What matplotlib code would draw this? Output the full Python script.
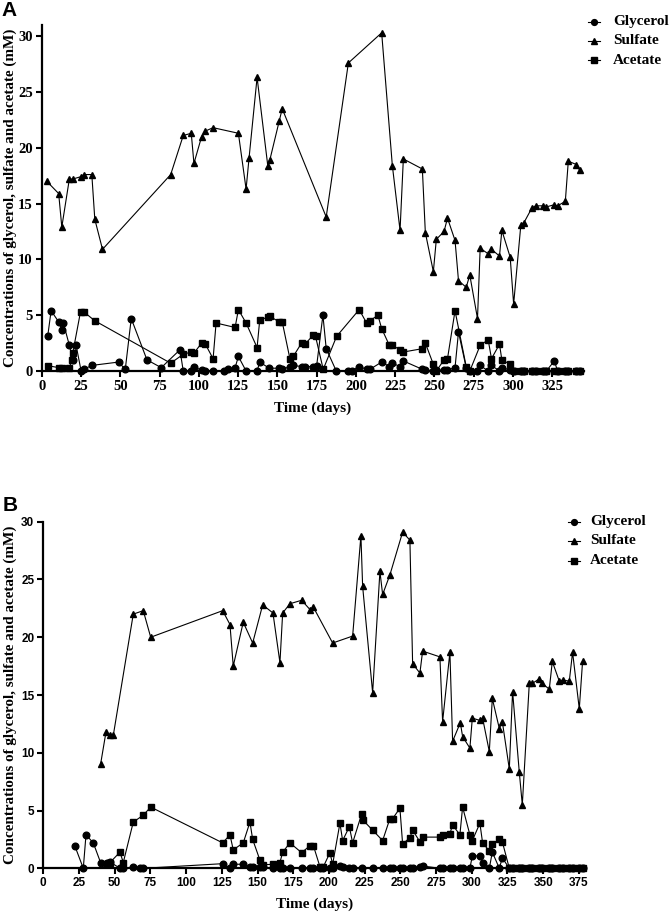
import matplotlib
matplotlib.use("Agg")
import matplotlib.pyplot as plt
from matplotlib.lines import Line2D

# ---------------- Panel A data ----------------
a_sulfate_days = [3.2, 10.8, 12.8, 17.6, 19.8, 24.7, 26.8, 31.9, 33.8, 38.7,
                  82.1, 90.1, 95.2, 96.9, 101.8, 104.2, 109.1, 125.2, 130.1, 132.0,
                  137.1, 143.9, 145.2, 151.2, 153.1, 181.1, 195.2, 216.4, 223.2, 228.1,
                  230.2, 242.3, 244.2, 249.3, 251.2, 256.1, 258.3, 263.1, 265.3, 270.2,
                  272.5, 277.4, 279.1, 284.2, 286.3, 291.4, 292.9, 298.2, 300.4, 305.0,
                  307.0, 312.0, 314.4, 319.0, 321.2, 326.3, 328.4, 333.3, 335.2, 340.3,
                  342.4]
a_sulfate = [17.0, 15.9, 12.9, 17.2, 17.2, 17.4, 17.6, 17.6, 13.6, 10.9,
             17.6, 21.1, 21.3, 18.6, 21.0, 21.5, 21.8, 21.3, 16.3, 19.1,
             26.3, 18.4, 18.9, 22.4, 23.5, 13.8, 27.6, 30.3, 18.4, 12.6,
             19.0, 18.1, 12.4, 8.9, 11.8, 12.5, 13.7, 11.7, 8.1, 7.5,
             8.6, 4.7, 11.0, 10.5, 10.9, 10.3, 12.6, 10.2, 6.0, 13.1,
             13.3, 14.6, 14.8, 14.8, 14.7, 14.9, 14.8, 15.2, 18.8, 18.5,
             18.0]

a_glycerol_days = [3.8, 6.0, 10.8, 12.8, 13.8, 17.6, 19.8, 21.9, 25.1, 26.8,
                   31.9, 48.9, 53.2, 57.0, 67.0, 76.1, 88.0, 90.1, 95.2, 96.9,
                   101.8, 104.2, 109.1, 116.1, 118.4, 123.1, 125.2, 130.1, 137.1, 138.8,
                   144.8, 151.2, 153.1, 158.0, 160.1, 165.4, 167.5, 172.8, 175.0, 179.0,
                   181.1, 187.5, 195.2, 197.2, 202.1, 206.8, 208.9, 216.4, 221.3, 223.2,
                   228.1, 230.2, 242.3, 244.2, 249.3, 251.2, 256.1, 258.3, 263.1, 265.3,
                   270.2, 272.5, 277.4, 279.1, 284.2, 286.3, 291.4, 292.9, 298.2, 300.4,
                   305.0, 307.0, 312.0, 314.4, 319.0, 321.2, 326.3, 328.4, 333.3, 335.2,
                   340.3, 342.4]
a_glycerol = [3.1, 5.4, 4.4, 3.7, 4.3, 2.3, 1.0, 2.3, 0.0, 0.15,
              0.5, 0.8, 0.15, 4.7, 1.0, 0.3, 1.9, 0.0, 0.0, 0.4,
              0.05, 0.0, 0.0, 0.0, 0.15, 0.3, 1.3, 0.0, 0.0, 0.8,
              0.25, 0.25, 0.15, 0.4, 0.5, 0.4, 0.4, 0.4, 0.45, 5.0,
              2.0, 0.0, 0.0, 0.0, 0.4, 0.15, 0.15, 0.8, 0.4, 0.7,
              0.4, 0.9, 0.15, 0.1, 0.0, 0.1, 0.05, 0.1, 0.3, 3.5,
              0.3, 0.0, 0.0, 0.5, 0.0, 0.5, 0.0, 0.3, 0.1, 0.0,
              0.0, 0.0, 0.0, 0.0, 0.0, 0.0, 0.9, 0.0, 0.0, 0.0,
              0.0, 0.0]

a_acetate_days = [3.8, 10.8, 13.0, 17.6, 19.2, 19.8, 24.7, 26.8, 33.8, 82.1,
                  90.1, 95.2, 96.9, 101.8, 104.2, 109.1, 111.0, 123.1, 125.2, 130.1,
                  137.1, 138.8, 143.9, 145.2, 151.2, 153.1, 158.0, 160.1, 165.4, 167.5,
                  172.8, 174.3, 179.2, 187.7, 202.1, 206.8, 208.9, 214.0, 216.4, 221.3,
                  223.2, 228.1, 230.2, 242.3, 244.2, 249.3, 251.2, 256.1, 258.3, 263.1,
                  270.2, 272.5, 279.1, 284.2, 286.3, 291.4, 292.9, 298.2, 300.4, 305.0,
                  307.0, 312.0, 314.4, 319.0, 321.2, 326.3, 328.4, 333.3, 335.2, 340.3,
                  342.4]
a_acetate = [0.48, 0.3, 0.24, 0.3, 1.0, 1.64, 5.3, 5.3, 4.5, 0.7,
             1.5, 1.7, 1.6, 2.5, 2.4, 1.1, 4.3, 3.9, 5.5, 4.3,
             2.1, 4.6, 4.8, 4.9, 4.4, 4.4, 1.1, 1.3, 2.5, 2.4,
             3.2, 3.1, 0.15, 3.1, 5.5, 4.3, 4.5, 5.0, 3.8, 2.3,
             2.3, 1.9, 1.7, 2.0, 2.5, 0.6, 0.0, 1.0, 1.1, 5.4,
             0.4, 0.0, 2.3, 2.8, 1.1, 2.4, 1.0, 0.6, 0.0, 0.0,
             0.0, 0.0, 0.0, 0.0, 0.0, 0.0, 0.0, 0.0, 0.0, 0.0,
             0.0]

# ---------------- Panel B data ----------------
b_sulfate_days = [40.1, 43.9, 46.9, 49.0, 63.0, 70.0, 75.2, 125.6, 130.7, 133.0,
                  140.0, 146.6, 153.6, 160.8, 165.7, 167.6, 172.7, 180.9, 186.7, 189.1,
                  202.6, 216.6, 222.4, 223.6, 230.6, 235.7, 237.6, 242.7, 251.6, 256.7,
                  258.6, 263.7, 265.6, 277.7, 279.6, 284.7, 286.6, 292.0, 293.6, 298.7,
                  300.4, 305.7, 307.6, 312.3, 314.4, 319.3, 321.4, 326.3, 328.6, 333.3,
                  335.4, 340.3, 342.4, 347.3, 349.4, 354.3, 356.4, 361.3, 363.6, 368.3,
                  370.6, 375.3, 377.6]
b_sulfate = [9.0, 11.8, 11.5, 11.5, 22.0, 22.3, 20.0, 22.3, 21.1, 17.5,
             21.3, 19.5, 22.8, 22.1, 17.8, 22.1, 22.9, 23.2, 22.4, 22.6,
             19.5, 20.1, 28.8, 24.4, 15.2, 25.7, 23.7, 25.4, 29.1, 28.4,
             17.7, 16.9, 18.8, 18.3, 12.7, 18.7, 11.0, 12.6, 11.4, 10.4,
             13.0, 12.8, 13.0, 10.1, 14.7, 12.1, 12.7, 8.6, 15.3, 8.3,
             5.5, 16.0, 16.0, 16.4, 16.0, 15.5, 17.9, 16.2, 16.3, 16.2,
             18.7, 13.8, 17.9]

b_acetate_days = [44.3, 46.7, 53.7, 56.0, 63.0, 70.0, 75.2, 125.6, 130.7, 133.0,
                  140.0, 144.7, 146.6, 151.7, 153.6, 160.8, 165.7, 167.6, 172.7, 180.9,
                  186.7, 189.1, 193.7, 196.1, 200.7, 202.6, 207.7, 209.6, 214.3, 216.6,
                  222.9, 223.6, 230.6, 237.6, 242.7, 244.6, 249.7, 251.6, 256.7, 258.6,
                  263.7, 265.6, 277.7, 279.6, 284.7, 286.6, 291.7, 293.6, 298.7, 300.4,
                  305.7, 307.6, 312.3, 314.4, 319.3, 321.4, 326.3, 328.6, 333.3, 335.4,
                  340.3, 342.4, 347.3, 349.4, 354.3, 356.4, 361.3, 363.6, 368.3, 370.6,
                  375.3, 377.6]
b_acetate = [0.35, 0.5, 1.4, 0.5, 4.0, 4.6, 5.3, 2.2, 2.9, 1.6,
             2.2, 4.0, 2.5, 0.7, 0.3, 0.35, 0.5, 1.4, 2.2, 1.35,
             1.96, 1.96, 0.14, 0.14, 1.35, 0.35, 3.9, 2.4, 3.6, 2.2,
             4.7, 4.2, 3.3, 2.4, 4.3, 4.3, 5.2, 2.1, 2.65, 3.3,
             2.3, 2.7, 2.7, 2.9, 3.0, 3.75, 2.9, 5.3, 2.9, 2.4,
             3.9, 2.2, 1.5, 2.1, 2.5, 2.3, 0.0, 0.0, 0.0, 0.0,
             0.0, 0.0, 0.0, 0.0, 0.0, 0.0, 0.0, 0.0, 0.0, 0.0,
             0.0, 0.0]

b_glycerol_days = [22.2, 28.0, 29.9, 35.0, 40.1, 44.3, 46.7, 53.7, 56.0, 63.0,
                   68.0, 70.0, 125.6, 130.7, 133.0, 140.0, 144.7, 146.6, 151.7, 153.6,
                   160.8, 165.7, 167.6, 172.7, 180.9, 186.7, 189.1, 193.7, 196.1, 200.7,
                   202.6, 207.7, 209.6, 214.3, 216.6, 222.9, 230.6, 237.6, 242.7, 244.6,
                   249.7, 251.6, 256.7, 258.6, 263.7, 265.6, 277.7, 279.6, 284.7, 286.6,
                   291.7, 293.6, 298.7, 300.4, 305.7, 307.6, 312.3, 314.4, 319.3, 321.4,
                   326.3, 328.6, 333.3, 335.4, 340.3, 342.4, 347.3, 349.4, 354.3, 356.4,
                   361.3, 363.6, 368.3, 370.6, 375.3, 377.6]
b_glycerol = [1.9, 0.0, 2.9, 2.2, 0.5, 0.5, 0.55, 0.0, 0.0, 0.1,
              0.0, 0.0, 0.4, 0.0, 0.35, 0.35, 0.1, 0.1, 0.1, 0.1,
              0.0, 0.0, 0.0, 0.0, 0.0, 0.0, 0.0, 0.0, 0.0, 0.0,
              0.0, 0.2, 0.1, 0.0, 0.0, 0.0, 0.0, 0.0, 0.0, 0.0,
              0.0, 0.0, 0.0, 0.0, 0.1, 0.2, 0.0, 0.0, 0.0, 0.0,
              0.0, 0.0, 0.0, 1.07, 1.07, 0.43, 0.0, 1.4, 0.0, 0.9,
              0.0, 0.0, 0.0, 0.0, 0.0, 0.0, 0.0, 0.0, 0.0, 0.0,
              0.0, 0.0, 0.0, 0.0, 0.0, 0.0]

series_names = ["Glycerol", "Sulfate", "Acetate"]
a_xticks = list(range(0, 326, 25))
b_xticks = list(range(0, 376, 25))
yticks = list(range(0, 31, 5))
ylabel_text = "Concentrations of glycerol, sulfate and acetate (mM)"
xlabel_text = "Time (days)"

W, H = 671, 913
fig = plt.figure(figsize=(W / 100, H / 100), dpi=100)

SERIF = "Liberation Serif"
SANS = "Liberation Sans"

def px_rect(l, r, t, b):
    return [l / W, 1 - b / H, (r - l) / W, (b - t) / H]

def style_axes(ax, tickfont, tsize):
    for s in ["top", "right"]:
        ax.spines[s].set_visible(False)
    for s in ["left", "bottom"]:
        ax.spines[s].set_linewidth(1.6)
    ax.tick_params(direction="out", length=4.5, width=1.5, pad=2)
    for lab in ax.get_xticklabels() + ax.get_yticklabels():
        lab.set_fontfamily(tickfont)
        lab.set_fontweight("bold")
        lab.set_fontsize(tsize)

def draw(ax, gd, g, sd, s, ad, a):
    kw = dict(color="black", lw=0.8, clip_on=False)
    ax.plot(gd, g, marker="o", ms=4.8, **kw)
    ax.plot(sd, s, marker="^", ms=4.8, **kw)
    ax.plot(ad, a, marker="s", ms=4.8, **kw)

def legend(fig, x_marker, x_text, ys, size):
    markers = ["o", "^", "s"]
    for m, y, name in zip(markers, ys, series_names):
        yy = 1 - y / H
        fig.add_artist(Line2D([(x_marker - 6) / W, x_marker / W, (x_marker + 6) / W],
                              [yy, yy, yy], color="black", lw=0.8, marker=m, ms=4.2,
                              markevery=[1], transform=fig.transFigure))
        fig.text(x_text / W, yy, name, fontfamily=SERIF, fontweight="bold",
                 fontsize=size, va="center", ha="left")

# ---------- Panel A ----------
axA = fig.add_axes(px_rect(41.7, 583.7, 25, 371))
draw(axA, a_glycerol_days, a_glycerol, a_sulfate_days, a_sulfate, a_acetate_days, a_acetate)
axA.set_xlim(0, 345)
axA.set_ylim(0, 31)
axA.set_xticks(a_xticks)
axA.set_yticks(yticks)
style_axes(axA, SERIF, 10.5)
axA.set_xlabel(xlabel_text, fontfamily=SERIF, fontweight="bold", fontsize=11, labelpad=6)

# ---------- Panel B ----------
axB = fig.add_axes(px_rect(43.3, 586, 521.7, 868.3))
draw(axB, b_glycerol_days, b_glycerol, b_sulfate_days, b_sulfate, b_acetate_days, b_acetate)
axB.set_xlim(0, 380)
axB.set_ylim(0, 30)
axB.set_xticks(b_xticks)
axB.set_yticks(yticks)
style_axes(axB, SANS, 8.5)
axB.set_xlabel(xlabel_text, fontfamily=SERIF, fontweight="bold", fontsize=11, labelpad=6)

# y labels
fig.text(10 / W, 1 - 198 / H, ylabel_text, rotation=90, ha="center", va="center",
         fontfamily=SERIF, fontweight="bold", fontsize=10.9)
fig.text(10 / W, 1 - 695 / H, ylabel_text, rotation=90, ha="center", va="center",
         fontfamily=SERIF, fontweight="bold", fontsize=10.9)

# panel letters
fig.text(9 / W, 1 - 10 / H, "A", ha="center", va="center", fontfamily=SANS,
         fontweight="bold", fontsize=15)
fig.text(10 / W, 1 - 505 / H, "B", ha="center", va="center", fontfamily=SANS,
         fontweight="bold", fontsize=15)

legend(fig, 594, 613, [22, 41, 60], 11)
legend(fig, 574, 590, [522, 541, 561], 11)

fig.savefig("out.png", dpi=100)
